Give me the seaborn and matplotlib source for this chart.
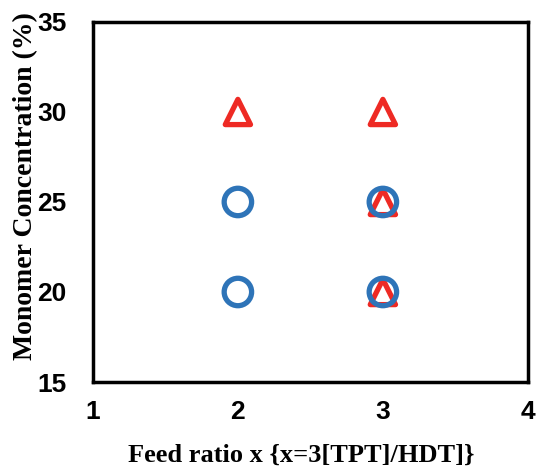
import matplotlib.pyplot as plt
import pandas as pd
import seaborn as sns

# triangles (red) and circles (blue)
tri_x = [2, 3, 3, 3]
tri_y = [30, 30, 25, 20]
circ_x = [2, 3, 2, 3]
circ_y = [25, 25, 20, 20]

x_ticks = [1, 2, 3, 4]
y_ticks = [15, 20, 25, 30, 35]

tri = pd.DataFrame({"x": tri_x, "y": tri_y})
circ = pd.DataFrame({"x": circ_x, "y": circ_y})

sns.set_style("white")
fig = plt.figure(figsize=(5.37, 4.67), dpi=100)
ax = fig.add_axes([0.173, 0.182, 0.81, 0.771])

sns.scatterplot(data=tri, x="x", y="y", marker="^", s=330, facecolors="none",
                edgecolor="#EE2A24", linewidth=3.8, ax=ax, zorder=3)
sns.scatterplot(data=circ, x="x", y="y", marker="o", s=390, facecolors="none",
                edgecolor="#2E74B8", linewidth=3.8, ax=ax, zorder=4)

ax.set_xlim(1, 4)
ax.set_ylim(15, 35)
ax.set_xticks(x_ticks)
ax.set_yticks(y_ticks)
ax.tick_params(direction="in", length=6, width=2.5, labelsize=19,
               color="black", labelcolor="black")
ax.tick_params(axis="x", pad=13)
ax.tick_params(axis="y", pad=19)
for lab in ax.get_xticklabels() + ax.get_yticklabels():
    lab.set_fontweight("bold")
    lab.set_family("Liberation Sans")

for sp in ax.spines.values():
    sp.set_linewidth(2.5)
    sp.set_color("black")

ax.set_xlabel("Feed ratio x {x=3[TPT]/HDT]}", fontsize=19, fontweight="bold",
              family="Liberation Serif", labelpad=14, color="black")
ax.set_ylabel("Monomer Concentration (%)", fontsize=20, fontweight="bold",
              family="Liberation Serif", labelpad=-1, color="black")
ax.xaxis.label.set_x(0.478)
ax.yaxis.label.set_y(0.544)

fig.savefig("out.png", dpi=100)
